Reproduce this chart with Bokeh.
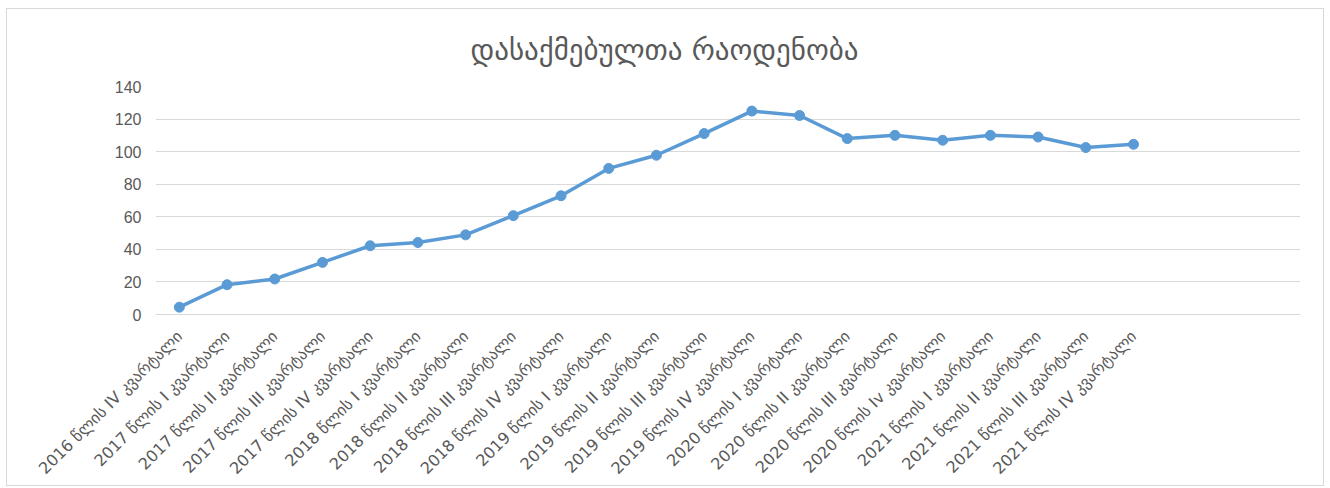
import math
from bokeh.plotting import figure
from bokeh.models import FixedTicker, Range1d, ColumnDataSource
from bokeh.embed import file_html
from bokeh.resources import INLINE

title_text = "დასაქმებულთა რაოდენობა"
categories = [
    "2016 წლის IV კვარტალი", "2017 წლის I კვარტალი", "2017 წლის II კვარტალი",
    "2017 წლის III კვარტალი", "2017 წლის IV კვარტალი", "2018 წლის I კვარტალი",
    "2018 წლის II კვარტალი", "2018 წლის III კვარტალი", "2018 წლის IV კვარტალი",
    "2019 წლის I კვარტალი", "2019 წლის II კვარტალი", "2019 წლის III კვარტალი",
    "2019 წლის IV კვარტალი", "2020 წლის I კვარტალი", "2020 წლის II კვარტალი",
    "2020 წლის III კვარტალი", "2020 წლის Iv კვარტალი", "2021 წლის I კვარტალი",
    "2021 წლის II კვარტალი", "2021 წლის III კვარტალი", "2021 წლის IV კვარტალი",
]
values = [4.5, 18.3, 21.8, 32.0, 42.2, 44.2, 48.9, 60.7, 72.9, 89.7, 97.8,
          111.1, 124.9, 122.2, 108.0, 110.0, 107.0, 110.0, 109.0, 102.5, 104.5]
empty_slots = 3
y_ticks = [0, 20, 40, 60, 80, 100, 120, 140]

idx = list(range(len(categories)))
src = ColumnDataSource(dict(x=idx, y=values))

OX, OY = 6, 8          # page offset of the figure box
W, H = 1318, 478
p = figure(width=W, height=H, output_backend="svg", toolbar_location=None,
           x_range=Range1d(-0.5, len(categories) + empty_slots - 0.5),
           y_range=Range1d(0, 140),
           min_border_left=155 - OX - 1, min_border_right=W - (1300 - OX - 1),
           min_border_top=86 - OY - 1, min_border_bottom=H - (315 - OY - 1))
p.styles = {"border": "1px solid #d9d9d9", "margin-left": f"{OX}px", "margin-top": f"{OY}px"}
p.outline_line_color = None

p.title.text = title_text
p.title.text_font = "DejaVu Sans"
p.title.text_font_size = "29px"
p.title.text_font_style = "normal"
p.title.text_color = "#595959"
p.title.align = "left"
p.title.offset = 315
p.title.standoff = 39

p.line("x", "y", source=src, line_color="#5b9bd5", line_width=3.5)
p.scatter("x", "y", source=src, size=10, fill_color="#5b9bd5", line_color="#5b9bd5")

p.xaxis.ticker = FixedTicker(ticks=idx)
p.xaxis.major_label_overrides = {i: c for i, c in zip(idx, categories)}
p.xaxis.major_label_orientation = math.pi / 4
p.xaxis.major_label_text_font = "DejaVu Sans"
p.xaxis.major_label_text_font_size = "16px"
p.xaxis.major_label_text_color = "#595959"
p.xaxis.major_tick_line_color = None
p.xaxis.minor_tick_line_color = None
p.xaxis.axis_line_color = "#d9d9d9"
p.xaxis.major_label_standoff = 13

p.yaxis.ticker = FixedTicker(ticks=y_ticks)
p.yaxis.major_label_text_font = "Liberation Sans"
p.yaxis.major_label_text_font_size = "16px"
p.yaxis.major_label_text_color = "#595959"
p.yaxis.major_tick_line_color = None
p.yaxis.minor_tick_line_color = None
p.yaxis.axis_line_color = None
p.yaxis.major_label_standoff = 8

p.xgrid.grid_line_color = None
p.ygrid.grid_line_color = "#d9d9d9"
p.ygrid.ticker = FixedTicker(ticks=y_ticks)

open("out.html", "w").write(file_html(p, INLINE))
